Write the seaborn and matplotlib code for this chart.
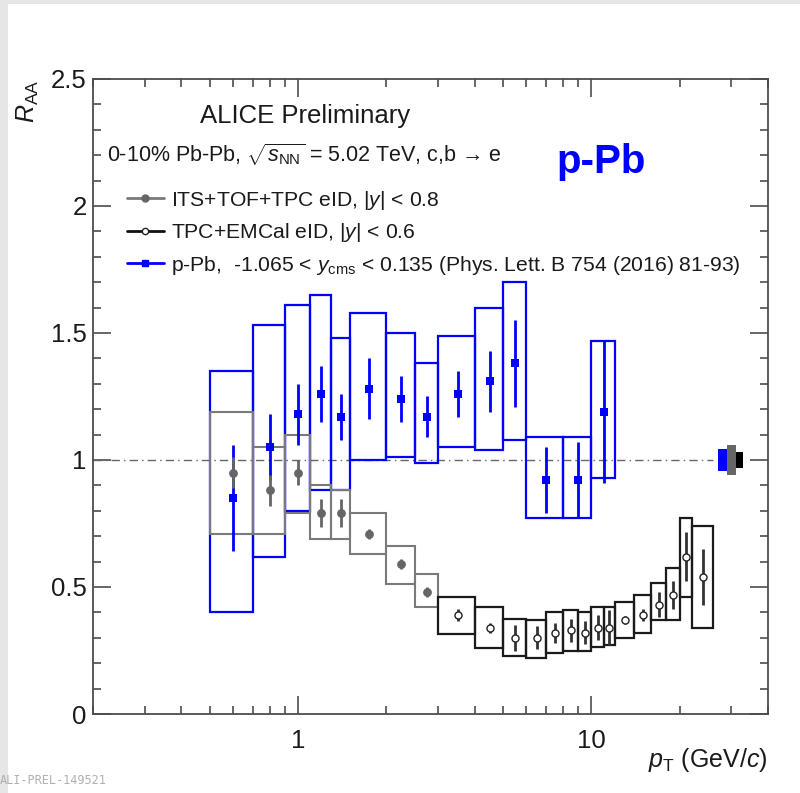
import numpy as np
import pandas as pd
import matplotlib
matplotlib.use("Agg")
import matplotlib.pyplot as plt
import seaborn as sns
from matplotlib.patches import Rectangle
from matplotlib.lines import Line2D
from matplotlib.ticker import FixedLocator, NullFormatter, FixedFormatter

# ---------------- data ----------------
# p-Pb (blue)
ppb_lo = [0.5, 0.7, 0.9, 1.1, 1.3, 1.5, 2.0, 2.5, 3.0, 4.0, 5.0, 6.0, 8.0, 10.0]
ppb_hi = [0.7, 0.9, 1.1, 1.3, 1.5, 2.0, 2.5, 3.0, 4.0, 5.0, 6.0, 8.0, 10.0, 12.0]
ppb_pt = [0.6, 0.8, 1.0, 1.2, 1.4, 1.75, 2.25, 2.75, 3.5, 4.5, 5.5, 7.0, 9.0, 11.0]
ppb_val = [0.85, 1.05, 1.18, 1.26, 1.17, 1.28, 1.24, 1.17, 1.26, 1.31, 1.38, 0.92, 0.92, 1.19]
ppb_stat = [0.21, 0.13, 0.12, 0.11, 0.09, 0.12, 0.09, 0.08, 0.09, 0.12, 0.17, 0.13, 0.15, 0.28]
ppb_sys_hi = [1.35, 1.53, 1.61, 1.65, 1.48, 1.58, 1.50, 1.38, 1.49, 1.60, 1.70, 1.09, 1.09, 1.47]
ppb_sys_lo = [0.40, 0.62, 0.80, 0.88, 0.88, 1.00, 1.01, 0.99, 1.05, 1.04, 1.08, 0.77, 0.77, 0.93]

# ITS+TOF+TPC eID (gray)
its_lo = [0.5, 0.7, 0.9, 1.1, 1.3, 1.5, 2.0, 2.5]
its_hi = [0.7, 0.9, 1.1, 1.3, 1.5, 2.0, 2.5, 3.0]
its_pt = [0.6, 0.8, 1.0, 1.2, 1.4, 1.75, 2.25, 2.75]
its_val = [0.95, 0.88, 0.95, 0.79, 0.79, 0.71, 0.59, 0.48]
its_stat = [0.06, 0.06, 0.05, 0.055, 0.055, 0.02, 0.02, 0.02]
its_sys_hi = [1.19, 1.05, 1.10, 0.90, 0.88, 0.79, 0.66, 0.55]
its_sys_lo = [0.71, 0.71, 0.79, 0.69, 0.69, 0.63, 0.51, 0.42]

# TPC+EMCal eID (black)
emc_lo = [3, 4, 5, 6, 7, 8, 9, 10, 11, 12, 14, 16, 18, 20, 22]
emc_hi = [4, 5, 6, 7, 8, 9, 10, 11, 12, 14, 16, 18, 20, 22, 26]
emc_pt = [3.5, 4.5, 5.5, 6.5, 7.5, 8.5, 9.5, 10.5, 11.5, 13, 15, 17, 19, 21, 24]
emc_val = [0.39, 0.34, 0.30, 0.30, 0.32, 0.33, 0.32, 0.34, 0.34, 0.37, 0.39, 0.43, 0.47, 0.62, 0.54]
emc_stat = [0.025, 0.02, 0.05, 0.045, 0.04, 0.045, 0.045, 0.05, 0.07, 0.015, 0.025, 0.05, 0.055, 0.095, 0.11]
emc_sys_hi = [0.46, 0.42, 0.375, 0.37, 0.40, 0.41, 0.40, 0.42, 0.42, 0.44, 0.47, 0.515, 0.575, 0.77, 0.74]
emc_sys_lo = [0.315, 0.26, 0.23, 0.22, 0.24, 0.25, 0.25, 0.265, 0.27, 0.30, 0.32, 0.37, 0.37, 0.46, 0.34]

# normalisation uncertainties (boxes at unity)
norm_unc = [0.043, 0.06, 0.03]          # p-Pb, ITS, EMCal
norm_x_edges = [27.0, 29.0, 31.0, 33.0]

x_ticks = [1, 10]
x_ticklabels = ["1", "10"]
y_ticks = [0, 0.5, 1, 1.5, 2, 2.5]
y_ticklabels = ["0", "0.5", "1", "1.5", "2", "2.5"]

# ---------------- style ----------------
sns.set_style("ticks")
plt.rcParams["font.family"] = ["Liberation Sans", "DejaVu Sans"]
plt.rcParams["mathtext.fontset"] = "custom"
plt.rcParams["mathtext.rm"] = "Liberation Sans"
plt.rcParams["mathtext.it"] = "Liberation Sans:italic"
plt.rcParams["mathtext.bf"] = "Liberation Sans:bold"
plt.rcParams["mathtext.sf"] = "Liberation Sans"

BLUE = "#0000ff"
GRAY = "#7a7a7a"
GRAYM = "#666666"
BLACK = "#1a1a1a"
FRAME = "#4d4d4d"

fig = plt.figure(figsize=(8.0, 7.93), dpi=100)
fig.patch.set_facecolor("white")
# light screenshot border
fig.patches.append(Rectangle((0, 0), 8 / 800, 1, transform=fig.transFigure,
                             facecolor="#e6e6e6", edgecolor="none", zorder=0))
fig.patches.append(Rectangle((0, 1 - 4 / 793), 1, 4 / 793, transform=fig.transFigure,
                             facecolor="#e6e6e6", edgecolor="none", zorder=0))

ax = fig.add_axes([93 / 800, 1 - 714 / 793, 675 / 800, 635 / 793])
ax.set_xscale("log")
ax.set_xlim(0.2, 40)
ax.set_ylim(0, 2.5)

# unity line
ax.plot([0.2, 26.0], [1, 1], color="#666666", lw=1.0, ls=(0, (6, 3, 1, 3)), zorder=1)

def draw_boxes(lo, hi, blo, bhi, color, lw, z):
    for a, b, c, d in zip(lo, hi, blo, bhi):
        ax.add_patch(Rectangle((a, c), b - a, d - c, fill=False, edgecolor=color,
                               lw=lw, zorder=z))

draw_boxes(ppb_lo, ppb_hi, ppb_sys_lo, ppb_sys_hi, BLUE, 1.6, 2)
draw_boxes(its_lo, its_hi, its_sys_lo, its_sys_hi, GRAY, 1.5, 3)
draw_boxes(emc_lo, emc_hi, emc_sys_lo, emc_sys_hi, BLACK, 1.6, 3)

# normalisation boxes
norm_colors = [BLUE, GRAYM, "#000000"]
for i, (u, c) in enumerate(zip(norm_unc, norm_colors)):
    a, b = norm_x_edges[i], norm_x_edges[i + 1]
    ax.add_patch(Rectangle((a, 1 - u), b - a, 2 * u, facecolor=c, edgecolor="none", zorder=4))

# statistical errors
ax.errorbar(ppb_pt, ppb_val, yerr=ppb_stat, fmt="none", ecolor=BLUE, elinewidth=2.0, capsize=0, zorder=5)
ax.errorbar(its_pt, its_val, yerr=its_stat, fmt="none", ecolor=GRAYM, elinewidth=2.0, capsize=0, zorder=6)
ax.errorbar(emc_pt, emc_val, yerr=emc_stat, fmt="none", ecolor="#333333", elinewidth=2.0, capsize=0, zorder=6)

# markers via seaborn
df_ppb = pd.DataFrame({"pt": ppb_pt, "RAA": ppb_val})
df_its = pd.DataFrame({"pt": its_pt, "RAA": its_val})
df_emc = pd.DataFrame({"pt": emc_pt, "RAA": emc_val})
sns.scatterplot(data=df_ppb, x="pt", y="RAA", marker="s", s=34, color=BLUE,
                edgecolor=BLUE, linewidth=0, ax=ax, legend=False, zorder=7)
sns.scatterplot(data=df_its, x="pt", y="RAA", marker="o", s=40, color=GRAYM,
                edgecolor=GRAYM, linewidth=0, ax=ax, legend=False, zorder=8)
sns.scatterplot(data=df_emc, x="pt", y="RAA", marker="o", s=26, color="white",
                edgecolor="#222222", linewidth=1.0, ax=ax, legend=False, zorder=8)

# axes styling
ax.xaxis.set_major_locator(FixedLocator(x_ticks))
ax.xaxis.set_major_formatter(FixedFormatter(x_ticklabels))
minor_x = [v * 10.0 ** k for k in (-1, 0, 1) for v in range(2, 10) if 0.2 <= v * 10.0 ** k <= 40]
ax.xaxis.set_minor_locator(FixedLocator(minor_x))
ax.xaxis.set_minor_formatter(NullFormatter())
ax.yaxis.set_major_locator(FixedLocator(y_ticks))
ax.yaxis.set_major_formatter(FixedFormatter(y_ticklabels))
ax.yaxis.set_minor_locator(FixedLocator(np.round(np.arange(0, 2.51, 0.1), 2)))

for sp in ax.spines.values():
    sp.set_color(FRAME)
    sp.set_linewidth(1.3)
    sp.set_visible(True)
ax.tick_params(which="both", direction="in", top=True, right=True, color=FRAME, width=1.2,
               labelsize=18.5, labelcolor="#1a1a1a")
ax.tick_params(which="major", length=13)
ax.tick_params(which="minor", length=5.5)
ax.tick_params(axis="y", which="major", pad=4.5)
ax.tick_params(axis="x", which="major", pad=11)
ax.set_xlabel("")
ax.set_ylabel("")

# axis titles
fig.text(768 / 800, 1 - 760 / 793, r"$p_{\rm T}$ (GeV/$c$)", ha="right", va="center",
         fontsize=18, color="#1a1a1a")
fig.text(28 / 800, 1 - 80 / 793, r"$R_{\rm AA}$", ha="center", va="top", rotation=90,
         fontsize=18, color="#1a1a1a")

# texts
ax.text(0.1585, 0.942, "ALICE Preliminary", transform=ax.transAxes, ha="left", va="center",
        fontsize=18.5, color="#1a1a1a")
ax.text(0.0207, 0.880, "0-10% Pb-Pb, $\\sqrt{s_{\\rm NN}}$ = 5.02 TeV, c,b \u2192 e",
        transform=ax.transAxes, ha="left", va="center", fontsize=15.5, color="#1a1a1a")
ax.text(0.687, 0.869, "p-Pb", transform=ax.transAxes, ha="left", va="center",
        fontsize=29, fontweight="bold", color=BLUE)

handles = [
    Line2D([], [], color=GRAY, lw=2, marker="o", ms=5, mfc=GRAYM, mec=GRAYM),
    Line2D([], [], color="#111111", lw=2, marker="o", ms=4.5, mfc="white", mec="#222222"),
    Line2D([], [], color=BLUE, lw=2, marker="s", ms=5, mfc=BLUE, mec=BLUE),
]
labels = [
    r"ITS+TOF+TPC eID, |$y$| < 0.8",
    r"TPC+EMCal eID, |$y$| < 0.6",
    r"p-Pb,  -1.065 < $y_{\rm cms}$ < 0.135 (Phys. Lett. B 754 (2016) 81-93)",
]
leg = ax.legend(handles, labels, loc="upper left", bbox_to_anchor=(0.050, 0.827),
                frameon=False, fontsize=15.2, handlelength=1.75, handletextpad=0.35,
                labelspacing=0.45, borderpad=0, borderaxespad=0)
for t in leg.get_texts():
    t.set_color("#1a1a1a")

# watermark
fig.text(0.0, 1 - 780 / 793, "ALI-PREL-149521", ha="left", va="center",
         fontsize=8.5, family="DejaVu Sans Mono", color="#b0b0b0")

fig.savefig("out.png", dpi=100, facecolor="white")
